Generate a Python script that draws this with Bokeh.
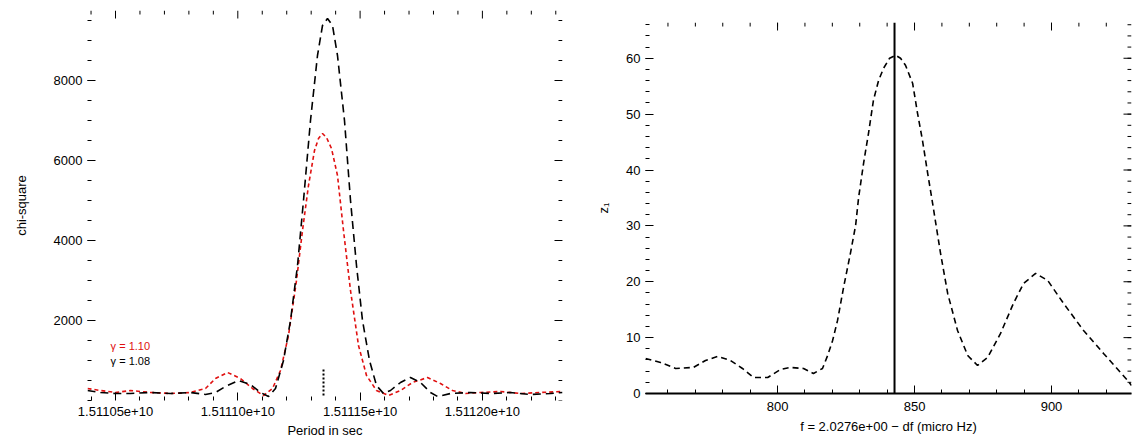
from bokeh.plotting import figure
from bokeh.models import FixedTicker, Range1d, PrintfTickFormatter, Label, Span
from bokeh.layouts import row, column
from bokeh.embed import file_html
from bokeh.resources import INLINE

# ---------------- left panel data ----------------
period_black = [1.51103855e10, 1.51104387e10, 1.51105000e10, 1.51105613e10, 1.51106431e10,
                1.51107249e10, 1.51108066e10, 1.51108679e10, 1.51109088e10, 1.51109497e10,
                1.51110029e10, 1.51110519e10, 1.51110928e10, 1.51111255e10, 1.51111541e10,
                1.51111868e10, 1.51112155e10, 1.51112441e10, 1.51112686e10, 1.51112972e10,
                1.51113258e10, 1.51113463e10, 1.51113667e10, 1.51113872e10, 1.51114076e10,
                1.51114362e10, 1.51114608e10, 1.51114853e10, 1.51115098e10, 1.51115384e10,
                1.51115670e10, 1.51115957e10, 1.51116243e10, 1.51116652e10, 1.51117060e10,
                1.51117469e10, 1.51117878e10, 1.51118164e10, 1.51118696e10, 1.51119513e10,
                1.51120331e10, 1.51121149e10, 1.51121966e10, 1.51122784e10, 1.51123275e10]
chi_black = [250, 200, 175, 175, 200, 175, 200, 150, 200, 350,
             500, 400, 200, 100, 300, 1000, 2000, 3375, 5000, 7000,
             8625, 9375, 9550, 9375, 8625, 7000, 5000, 3375, 2000, 1000,
             375, 175, 250, 450, 575, 450, 200, 100, 175, 200,
             175, 200, 150, 175, 200]

period_red = [1.51103855e10, 1.51104387e10, 1.51105000e10, 1.51105613e10, 1.51106431e10,
              1.51107249e10, 1.51108066e10, 1.51108679e10, 1.51109088e10, 1.51109579e10,
              1.51110110e10, 1.51110601e10, 1.51111051e10, 1.51111419e10, 1.51111746e10,
              1.51112073e10, 1.51112400e10, 1.51112645e10, 1.51112890e10, 1.51113136e10,
              1.51113299e10, 1.51113463e10, 1.51113626e10, 1.51113831e10, 1.51114076e10,
              1.51114321e10, 1.51114608e10, 1.51114935e10, 1.51115262e10, 1.51115670e10,
              1.51116161e10, 1.51116652e10, 1.51117142e10, 1.51117756e10, 1.51118287e10,
              1.51118778e10, 1.51119309e10, 1.51119922e10, 1.51120741e10, 1.51121558e10,
              1.51122375e10, 1.51123275e10]
chi_red = [300, 250, 200, 250, 200, 175, 200, 300, 550, 700,
           550, 300, 125, 300, 750, 1625, 3000, 4250, 5375, 6250,
           6550, 6675, 6575, 6300, 5625, 4250, 2750, 1375, 625, 250,
           125, 250, 450, 575, 425, 250, 175, 200, 225, 175,
           200, 225]

marker_period = 1.51113504e10
marker_low, marker_high = 125, 825

x1_ticks = [1.51105e10, 1.51110e10, 1.51115e10, 1.51120e10]
y1_ticks = [2000, 4000, 6000, 8000]
legend_red = "γ = 1.10"
legend_black = "γ = 1.08"
legend_x, legend_y_red, legend_y_black = 1.5110480e10, 1375, 1000

# ---------------- right panel data ----------------
freq = [751.8, 757.3, 762.8, 769.3, 773.7, 778.1, 782.8, 787.2, 791.2, 796.4,
        801.1, 804.7, 809.5, 813.1, 816.4, 818.3, 820.1, 821.9, 824.1, 826.6,
        828.5, 829.6, 831.4, 833.2, 835.0, 836.9, 838.7, 840.9, 843.1, 844.9,
        846.7, 849.3, 851.1, 852.9, 854.8, 856.6, 857.7, 859.5, 862.1, 865.7,
        869.4, 873.0, 876.7, 881.4, 886.1, 889.8, 894.2, 898.6, 904.4, 911.7,
        919.0, 927.8, 929.2]
z1 = [6.27, 5.55, 4.48, 4.66, 5.91, 6.63, 5.91, 4.48, 2.87, 2.87,
      4.30, 4.66, 4.48, 3.58, 4.48, 6.81, 9.49, 13.08, 18.99, 25.08,
      30.09, 35.11, 41.20, 46.57, 52.48, 56.06, 58.21, 60.00, 60.54, 60.00,
      58.75, 55.53, 50.15, 45.32, 39.41, 34.03, 30.63, 25.08, 17.91, 11.28,
      6.81, 5.02, 6.45, 10.75, 16.12, 19.70, 21.49, 20.24, 16.12, 11.28,
      7.16, 2.33, 1.43]
peak_freq = 842.7
x2_ticks = [800, 850, 900]
y2_ticks = [0, 10, 20, 30, 40, 50, 60]

FONT = "Liberation Sans"
FS = "13px"


def style_axis(ax):
    ax.axis_line_color = None
    ax.major_tick_in = 8
    ax.major_tick_out = 0
    ax.minor_tick_in = 4
    ax.minor_tick_out = 0
    ax.major_tick_line_color = "black"
    ax.minor_tick_line_color = "black"
    ax.major_label_text_font = FONT
    ax.major_label_text_font_size = FS
    ax.major_label_text_color = "black"
    ax.axis_label_text_font = FONT
    ax.axis_label_text_font_size = FS
    ax.axis_label_text_font_style = "normal"
    ax.axis_label_text_color = "black"


def mirror_ticks(p, xr, yr, fw, fh, xmaj, xmin, ymaj, ymin):
    """Inward tick marks on the top and right frame edges, derived from the tick lists."""
    dy = (yr[1] - yr[0]) / fh
    dx = (xr[1] - xr[0]) / fw
    for ticks, length in ((xmaj, 8), (xmin, 4)):
        t = [v for v in ticks if xr[0] <= v <= xr[1]]
        p.segment(x0=t, y0=[yr[1]] * len(t), x1=t, y1=[yr[1] - length * dy] * len(t),
                  line_color="black", line_width=1)
    for ticks, length in ((ymaj, 8), (ymin, 4)):
        t = [v for v in ticks if yr[0] <= v <= yr[1]]
        p.segment(x0=[xr[1]] * len(t), y0=t, x1=[xr[1] - length * dx] * len(t), y1=t,
                  line_color="black", line_width=1)


# ---------------- left figure ----------------
xr1 = (period_black[0], period_black[-1])
yr1 = (0, 9750)
FW1, FH1 = 475, 390
p1 = figure(width=575, height=448,
            min_border_left=87, min_border_right=13, min_border_top=10, min_border_bottom=48,
            x_range=Range1d(*xr1), y_range=Range1d(*yr1),
            output_backend="svg", toolbar_location=None)
p1.outline_line_color = None
p1.grid.visible = False

x1_minor = [t + k * 1e5 for t in [1.51100e10] + x1_ticks for k in range(1, 5)]
y1_minor = [v * 500 for v in range(0, 20)]

p1.xaxis.ticker = FixedTicker(ticks=x1_ticks, minor_ticks=x1_minor)
p1.xaxis.formatter = PrintfTickFormatter(format="%.5e")
p1.xaxis.axis_label = "Period in sec"
p1.yaxis.ticker = FixedTicker(ticks=y1_ticks, minor_ticks=y1_minor)
p1.yaxis.axis_label = "chi-square"
style_axis(p1.xaxis[0])
style_axis(p1.yaxis[0])
p1.xaxis.major_label_standoff = 6
p1.xaxis.axis_label_standoff = 4
p1.yaxis.axis_label_standoff = 22
mirror_ticks(p1, xr1, yr1, FW1, FH1, x1_ticks, x1_minor, y1_ticks, y1_minor)

p1.line(period_red, chi_red, line_color="#e01010", line_width=1.6, line_dash="4 3")
p1.line(period_black, chi_black, line_color="black", line_width=1.6, line_dash="8 5")
p1.segment(x0=[marker_period], y0=[marker_low], x1=[marker_period], y1=[marker_high],
           line_color="black", line_width=2, line_dash="2 2")

p1.add_layout(Label(x=legend_x, y=legend_y_red, text=legend_red, text_color="#e01010",
                    text_font=FONT, text_font_size="11px", text_baseline="middle"))
p1.add_layout(Label(x=legend_x, y=legend_y_black, text=legend_black, text_color="black",
                    text_font=FONT, text_font_size="11px", text_baseline="middle"))

# ---------------- right figure ----------------
xr2 = (freq[0], freq[-1])
yr2 = (0, 66.4)
FW2, FH2 = 486, 371
p2 = figure(width=558, height=448,
            min_border_left=70, min_border_right=2, min_border_top=22, min_border_bottom=55,
            x_range=Range1d(*xr2), y_range=Range1d(*yr2),
            output_backend="svg", toolbar_location=None)
p2.outline_line_color = None
p2.grid.visible = False

x2_minor = [v for v in range(750, 935, 10)]
y2_minor = [v for v in range(0, 67, 2)]
p2.xaxis.ticker = FixedTicker(ticks=x2_ticks, minor_ticks=x2_minor)
p2.xaxis.axis_label = "f = 2.0276e+00 − df (micro Hz)"
p2.yaxis.ticker = FixedTicker(ticks=y2_ticks, minor_ticks=y2_minor)
p2.yaxis.axis_label = "z₁"
style_axis(p2.xaxis[0])
style_axis(p2.yaxis[0])
p2.xaxis.axis_line_color = "black"
p2.xaxis.axis_line_width = 2
p2.xaxis.major_label_standoff = 8
p2.yaxis.axis_label_standoff = 12
mirror_ticks(p2, xr2, yr2, FW2, FH2, x2_ticks, x2_minor, y2_ticks, y2_minor)

p2.line(freq, z1, line_color="black", line_width=1.6, line_dash="6 4")
p2.add_layout(Span(location=peak_freq, dimension="height", line_color="black", line_width=2))

layout = row(column(p1), column(p2))
open("out.html", "w").write(file_html(layout, INLINE))
